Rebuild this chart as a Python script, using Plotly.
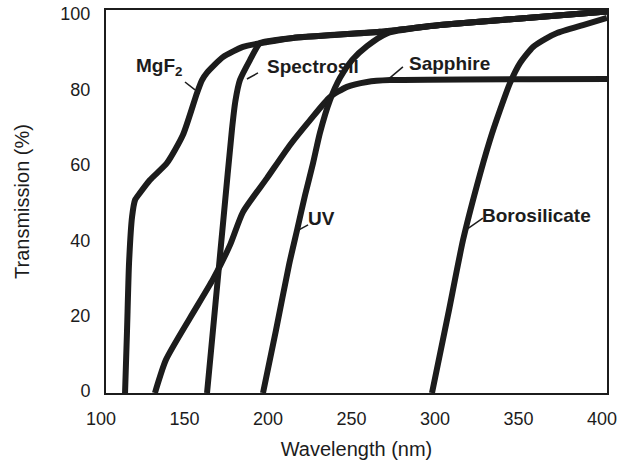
import plotly.graph_objects as go

# Transmission curves of common UV window materials (wavelength in nm, transmission in %)
mgf2_wl = [111.4, 112.6, 113.8, 115.6, 117.4, 120.4, 126.3, 136.5, 146.1, 154.5,
           157.5, 160.5, 170.0, 182.0, 196.4, 212.0, 264.0, 300.0, 350.0, 400.0]
mgf2_t = [0, 16.7, 34.5, 46.7, 51.2, 53.1, 56.5, 61.0, 68.5, 79.6,
          83.0, 85.0, 89.1, 91.8, 93.1, 94.2, 95.8, 97.6, 99.4, 101.2]

spectrosil_wl = [160.5, 165.5, 170.5, 175.4, 177.5, 180.2, 186.2, 192.2, 198.0,
                 212.0, 264.0, 300.0, 350.0, 400.0]
spectrosil_t = [0, 23.5, 47.0, 69.8, 77.5, 83.0, 88.3, 92.8, 93.4,
                94.2, 95.8, 97.6, 99.4, 101.2]

sapphire_wl = [129.3, 135.9, 150.3, 164.1, 174.3, 182.0, 196.4, 210.2, 222.2, 234.1,
               244.3, 256.3, 270.1, 400.0]
sapphire_t = [0, 8.8, 19.9, 30.2, 39.3, 48.0, 57.0, 65.8, 72.4, 78.5,
              81.2, 82.5, 83.0, 83.3]

uv_wl = [194.0, 201.8, 209.6, 214.4, 219.2, 224.0, 228.1, 234.1, 240.1, 247.3,
         256.3, 268.3, 300.0, 350.0, 400.0]
uv_t = [0, 16.7, 34.0, 43.2, 52.5, 61.0, 69.0, 77.7, 83.6, 88.3,
        92.0, 95.4, 97.6, 99.4, 101.2]

boro_wl = [295.2, 304.8, 313.8, 322.2, 329.9, 335.9, 341.9, 347.9, 355.7, 362.9,
           370.1, 385.6, 400.0]
boro_t = [0, 20.7, 40.6, 55.2, 67.1, 75.0, 82.2, 87.5, 91.8, 93.9,
          95.5, 97.6, 99.5]

x_ticks = [100, 150, 200, 250, 300, 350, 400]
y_ticks = [0, 20, 40, 60, 80, 100]

series = [
    ("MgF2", mgf2_wl, mgf2_t),
    ("Spectrosil", spectrosil_wl, spectrosil_t),
    ("Sapphire", sapphire_wl, sapphire_t),
    ("UV", uv_wl, uv_t),
    ("Borosilicate", boro_wl, boro_t),
]

ink = "#1c1c1c"
fig = go.Figure()
for name, wl, t in series:
    fig.add_trace(go.Scatter(
        x=wl, y=t, mode="lines", name=name,
        line=dict(color=ink, width=6, shape="spline", smoothing=0.6),
        showlegend=False,
    ))

# curve labels with short leader lines
labels = [
    ("MgF<sub>2</sub>", 131.7, 86.5, (147.3, 82.5, 153.3, 80.4)),
    ("Spectrosil", 224.0, 86.7, (191.0, 84.9, 184.4, 83.3)),
    ("Sapphire", 305.4, 87.3, (277.8, 86.5, 270.0, 83.6)),
    ("UV", 229.3, 46.2, (221.0, 44.6, 214.4, 43.0)),
    ("Borosilicate", 357.5, 47.0, (325.7, 46.4, 316.2, 43.5)),
]
for text, lx, ly, (x0, y0, x1, y1) in labels:
    fig.add_annotation(x=lx, y=ly, text=text, showarrow=False,
                       font=dict(family="Liberation Sans, Arial", size=19,
                                 color=ink, weight="bold"))
    fig.add_shape(type="line", x0=x0, y0=y0, x1=x1, y1=y1,
                  line=dict(color=ink, width=1.5))

axis_font = dict(family="Liberation Sans, Arial", size=18, color=ink)
fig.update_layout(
    width=621, height=474,
    margin=dict(l=106, r=14, t=10, b=81),
    paper_bgcolor="white", plot_bgcolor="white",
    font=axis_font,
    xaxis=dict(
        range=[100, 400], tickvals=x_ticks, showgrid=False, zeroline=False,
        showline=True, linecolor=ink, linewidth=2, mirror=True,
        ticks="", ticklabelstandoff=8, ticklabelshift=-5,
        ticklabeloverflow="allow", automargin=False,
        title=dict(text="Wavelength (nm)", font=dict(size=20), standoff=14),
    ),
    yaxis=dict(
        range=[0, 101.6], tickvals=y_ticks, showgrid=False, zeroline=False,
        showline=True, linecolor=ink, linewidth=2, mirror=True,
        ticks="", ticklabelstandoff=10, ticklabelshift=-2,
        ticklabeloverflow="allow", automargin=False,
        title=dict(text="Transmission (%)", font=dict(size=20), standoff=25),
    ),
)

fig.write_html("out.html")
